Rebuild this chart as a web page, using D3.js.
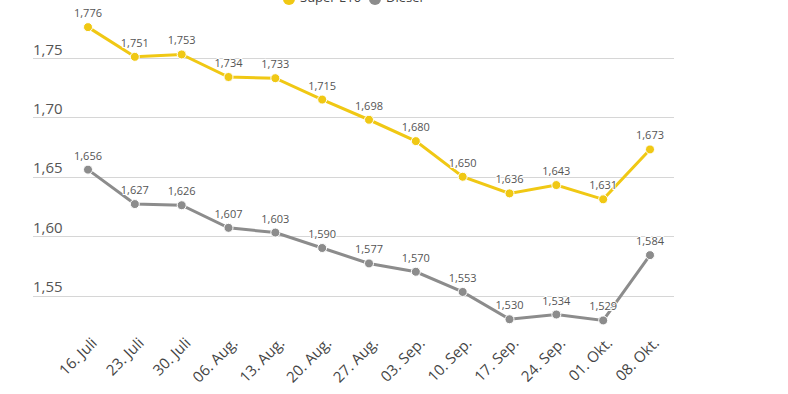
<!DOCTYPE html>
<html><head><meta charset="utf-8">
<script src="https://cdn.jsdelivr.net/npm/d3@7"></script>
<style>body{margin:0;background:#fff;}svg{display:block;font-family:"Open Sans",sans-serif;}</style>
</head><body><svg id="c" width="788" height="394"></svg>
<script>
const categories = ["16. Juli","23. Juli","30. Juli","06. Aug.","13. Aug.","20. Aug.","27. Aug.","03. Sep.","10. Sep.","17. Sep.","24. Sep.","01. Okt.","08. Okt."];
const superE10 = [1.776,1.751,1.753,1.734,1.733,1.715,1.698,1.680,1.650,1.636,1.643,1.631,1.673];
const diesel = [1.656,1.627,1.626,1.607,1.603,1.590,1.577,1.570,1.553,1.530,1.534,1.529,1.584];
const yTicks = [1.55,1.60,1.65,1.70,1.75];
const seriesNames = ["Super E10","Diesel"];
const colors = ["#f0c814","#8c8c8c"];

const svg = d3.select("#c");
const x = d3.scalePoint().domain(categories).range([88,650]);
const y = d3.scaleLinear().domain([1.55,1.75]).range([295.5,58]);
const fmt = v => v.toFixed(3).replace(".", ",");

// grid
const g = svg.append("g");
g.selectAll("line.grid").data(yTicks).join("line")
  .attr("x1",33).attr("x2",674).attr("y1",d=>Math.round(y(d))+0.5).attr("y2",d=>Math.round(y(d))+0.5)
  .attr("stroke","#d6d6d6").attr("stroke-width",1);
g.selectAll("text.yl").data(yTicks).join("text")
  .attr("x",33).attr("y",d=>y(d)-3.5).attr("font-size",15).attr("fill","#555")
  .text(d=>d.toFixed(2).replace(".", ","));

// x labels
svg.append("g").selectAll("text").data(categories).join("text")
  .attr("transform",d=>`translate(${x(d)+10},${344}) rotate(-45)`)
  .attr("text-anchor","end").attr("font-size",15).attr("fill","#444").text(d=>d);

const line = d3.line().x((d,i)=>x(categories[i])).y(d=>y(d));
[superE10, diesel].forEach((s,si)=>{
  const gg = svg.append("g");
  gg.append("path").datum(s).attr("d",line).attr("fill","none").attr("stroke",colors[si]).attr("stroke-width",3);
  gg.selectAll("circle").data(s).join("circle")
    .attr("cx",(d,i)=>x(categories[i])).attr("cy",d=>y(d)).attr("r",4.5)
    .attr("fill",colors[si]).attr("stroke","#fff").attr("stroke-width",1);
  gg.selectAll("text").data(s).join("text")
    .attr("x",(d,i)=>x(categories[i])).attr("y",d=>y(d)-10)
    .attr("text-anchor","middle").attr("font-size",11).attr("fill","#555")
    .attr("stroke","#fff").attr("stroke-width",2).attr("paint-order","stroke")
    .text(fmt);
});

// legend (cut off at top, as in reference)
const lg = svg.append("g");
const lx = [289,375];
seriesNames.forEach((n,i)=>{
  lg.append("circle").attr("cx",lx[i]).attr("cy",-1).attr("r",6).attr("fill",colors[i]);
  lg.append("text").attr("x",lx[i]+11).attr("y",2).attr("font-size",13).attr("fill","#444").text(n);
});
</script></body></html>
